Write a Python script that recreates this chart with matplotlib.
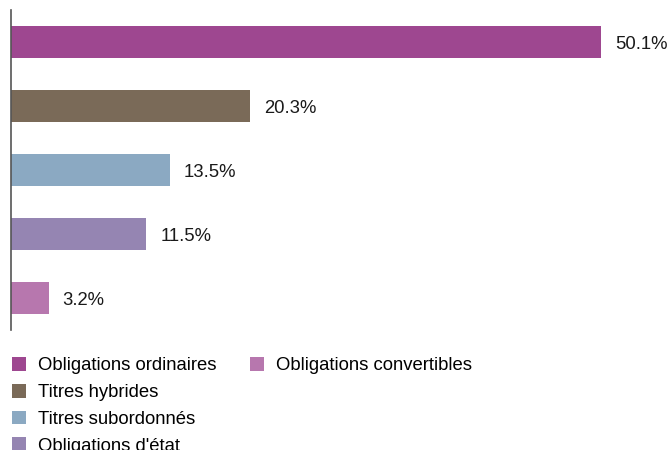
import matplotlib.pyplot as plt
from matplotlib.patches import Patch

categories = ["Obligations ordinaires", "Titres hybrides", "Titres subordonnés",
              "Obligations d'état", "Obligations convertibles"]
shares = [50.1, 20.3, 13.5, 11.5, 3.2]
colors = ["#9e4790", "#7a6a58", "#8ba9c2", "#9585b2", "#b777ae"]
value_labels = ["50.1%", "20.3%", "13.5%", "11.5%", "3.2%"]

plt.rcParams['font.family'] = ['Liberation Sans', 'DejaVu Sans']
FS = 13.3

fig = plt.figure(figsize=(6.7, 4.5), dpi=100)
ax = fig.add_axes([11 / 670, 1 - 330 / 450, 659 / 670, 320 / 450])

pos = list(range(len(categories)))
ax.barh(pos, shares, height=0.5, color=colors)
for p, v, lab in zip(pos, shares, value_labels):
    ax.annotate(lab, (v, p), xytext=(10, -2), textcoords='offset points',
                va='center', ha='left', fontsize=FS, color='#1a1a1a')

ax.set_ylim(len(categories) - 0.5, -0.5)
ax.set_xlim(0, 659 / 11.776)
for side in ['top', 'right', 'bottom']:
    ax.spines[side].set_visible(False)
ax.spines['left'].set_color('#555555')
ax.spines['left'].set_linewidth(1.2)
ax.set_xticks([])
ax.set_yticks([])

handles = [Patch(facecolor=c, edgecolor='none') for c in colors]
kw = dict(frameon=False, fontsize=FS, handlelength=0.78, handleheight=0.78,
          handletextpad=0.62, labelspacing=0.51, borderpad=0, borderaxespad=0,
          loc='upper left')
fig.legend(handles[:4], categories[:4], bbox_to_anchor=(12 / 670, 1 - 357 / 450), **kw)
fig.legend(handles[4:], categories[4:], bbox_to_anchor=(250 / 670, 1 - 357 / 450), **kw)

fig.savefig('out.png', dpi=100)
